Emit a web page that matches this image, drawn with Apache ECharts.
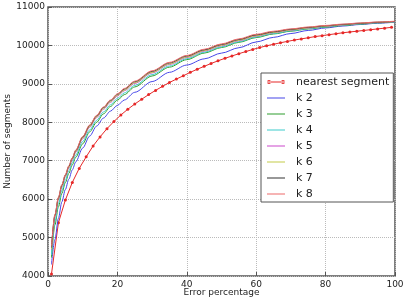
<!DOCTYPE html>
<html>
<head>
<meta charset="utf-8">
<script src="https://cdn.jsdelivr.net/npm/echarts@6/dist/echarts.min.js"></script>
<style>
  html, body { margin: 0; padding: 0; background: #fff; }
  #chart { width: 403px; height: 298px; }
</style>
</head>
<body>
<div id="chart"></div>
<script>
// nearest segment: markers at odd error percentages
const nearestX = [1,3,5,7,9,11,13,15,17,19,21,23,25,27,29,31,33,35,37,39,41,43,45,47,49,
  51,53,55,57,59,61,63,65,67,69,71,73,75,77,79,81,83,85,87,89,91,93,95,97,99];
const nearestY = [4050,5385,5975,6435,6800,7100,7385,7620,7835,8020,8190,8340,8475,8600,8720,
  8830,8935,9035,9125,9210,9300,9380,9455,9530,9600,9665,9725,9785,9840,9895,
  9945,9990,10030,10070,10105,10140,10170,10200,10230,10255,10280,10305,10330,10350,10370,
  10390,10410,10430,10450,10470];

// k curves share the same x samples
const kX = [1,2,3,4,5,6,7,8,10,12,14,16,18,20,22,25,30,35,40,45,50,55,60,65,70,75,80,85,90,95,100];
const k2 = [4300,4950,5500,5930,6250,6520,6760,6970,7330,7640,7900,8110,8290,8440,8580,8780,
  9060,9300,9490,9650,9800,9940,10090,10210,10310,10390,10455,10505,10545,10578,10605];
const k3 = [4480,5330,5800,6150,6430,6670,6890,7090,7440,7750,8000,8220,8410,8575,8720,8920,
  9205,9435,9630,9800,9945,10080,10205,10298,10370,10428,10476,10518,10554,10588,10614];
const k4 = [4560,5420,5890,6230,6500,6740,6950,7150,7500,7800,8050,8270,8455,8620,8765,8960,
  9240,9465,9655,9822,9965,10098,10222,10312,10382,10438,10485,10526,10560,10592,10616];
const k5 = [4680,5540,5990,6320,6580,6810,7020,7220,7570,7870,8120,8340,8520,8680,8822,9012,
  9285,9505,9688,9852,9993,10124,10245,10332,10398,10452,10497,10536,10568,10597,10620];
const k6 = [4700,5560,6010,6340,6600,6830,7040,7240,7590,7890,8140,8360,8540,8700,8840,9030,
  9300,9520,9700,9865,10005,10135,10255,10340,10405,10458,10502,10540,10572,10600,10622];
const k7 = [4745,5590,6035,6365,6625,6855,7065,7265,7615,7915,8165,8385,8565,8725,8865,9055,
  9325,9545,9725,9885,10025,10155,10275,10355,10420,10470,10512,10548,10578,10604,10625];
const k8 = [4760,5600,6050,6380,6640,6870,7080,7280,7630,7930,8180,8400,8580,8740,8880,9070,
  9340,9560,9740,9900,10040,10170,10290,10370,10430,10480,10520,10555,10585,10610,10630];

const kSeries = [
  { name: 'k 2', values: k2, color: '#4646e8' },
  { name: 'k 3', values: k3, color: '#2e9e2e' },
  { name: 'k 4', values: k4, color: '#3ccccc' },
  { name: 'k 5', values: k5, color: '#cc48cc' },
  { name: 'k 6', values: k6, color: '#c4cc48' },
  { name: 'k 7', values: k7, color: '#333333' },
  { name: 'k 8', values: k8, color: '#ee6a6a' },
];

const pairs = (xs, ys) => xs.map((x, i) => [x, ys[i]]);

// legend glyphs in an 18x4 box: a thin line, and for the red one two dots at the ends
const lineIcon = 'path://M0,1.5 H18 V2.5 H0 Z M0,0 H0.01 V4 H0 Z';
const dotLineIcon = 'path://M0,1.5 H18 V2.5 H0 Z M0,2 a2,2 0 1,0 4,0 a2,2 0 1,0 -4,0 Z M14,2 a2,2 0 1,0 4,0 a2,2 0 1,0 -4,0 Z';

const chart = echarts.init(document.getElementById('chart'), null, { renderer: 'canvas' });
const font = 'DejaVu Sans';

const series = [{
  name: 'nearest segment',
  type: 'line',
  data: pairs(nearestX, nearestY),
  symbol: 'circle',
  symbolSize: 3,
  showSymbol: true,
  color: '#e62828',
  lineStyle: { width: 1, color: '#e62828' },
  z: 3,
}].concat(kSeries.map((s, i) => ({
  name: s.name,
  type: 'line',
  data: pairs(kX, s.values),
  symbol: 'none',
  smooth: 0.3,
  smoothMonotone: 'x',
  color: s.color,
  lineStyle: { width: 1, color: s.color },
  z: 4 + i,
})));

chart.setOption({
  animation: false,
  textStyle: { fontFamily: font },
  grid: {
    left: 48, right: 8, top: 7, bottom: 22,
    containLabel: false,
    outerBoundsMode: 'none',
    show: true, borderColor: '#555', borderWidth: 1.5,
  },
  legend: {
    data: series.map((s, i) => ({ name: s.name, icon: i === 0 ? dotLineIcon : lineIcon })),
    orient: 'vertical',
    left: 261, top: 73,
    padding: [3, 4, 2, 6],
    itemWidth: 18, itemHeight: 4,
    itemGap: 4,
    backgroundColor: '#fff',
    borderColor: '#555', borderWidth: 1,
    textStyle: { fontFamily: font, fontSize: 11, color: '#222', lineHeight: 12, padding: [0, 0, 0, 6] },
    z: 20,
  },
  xAxis: {
    type: 'value',
    min: 0, max: 100, interval: 20,
    name: 'Error percentage',
    nameLocation: 'middle',
    nameGap: 12,
    nameMoveOverlap: false,
    nameTextStyle: { fontFamily: font, fontSize: 9, color: '#222' },
    axisLine: { show: false },
    axisTick: { show: true, inside: true, length: 4, lineStyle: { color: '#555' } },
    axisLabel: { fontFamily: font, fontSize: 9, color: '#222', margin: 4 },
    splitLine: { show: true, lineStyle: { type: 'dotted', color: '#bbb', width: 1 } },
  },
  yAxis: {
    type: 'value',
    min: 4000, max: 11000, interval: 1000,
    name: 'Number of segments',
    nameLocation: 'middle',
    nameGap: 36,
    nameMoveOverlap: false,
    nameTextStyle: { fontFamily: font, fontSize: 9, color: '#222' },
    axisLine: { show: false },
    axisTick: { show: true, inside: true, length: 4, lineStyle: { color: '#555' } },
    axisLabel: { fontFamily: font, fontSize: 9, color: '#222', margin: 3, formatter: v => String(v) },
    splitLine: { show: true, lineStyle: { type: 'dotted', color: '#bbb', width: 1 } },
  },
  series: series,
});
</script>
</body>
</html>
